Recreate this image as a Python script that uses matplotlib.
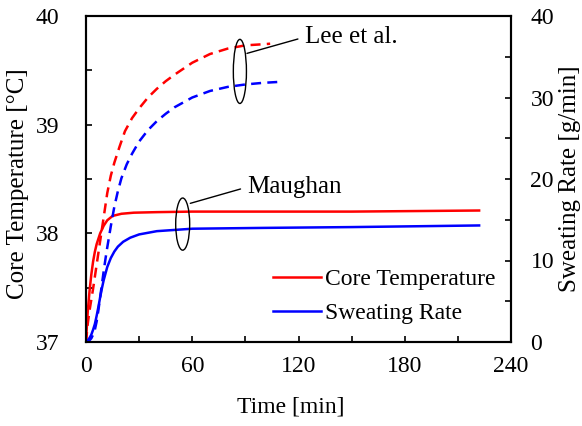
import glob
import numpy as np
import matplotlib
matplotlib.use("Agg")
import matplotlib.pyplot as plt
from matplotlib import font_manager
from matplotlib.patches import Ellipse
from matplotlib.ticker import MultipleLocator

# make sure the Times-like Liberation Serif is registered
for f in glob.glob('/usr/share/fonts/**/LiberationSerif*.ttf', recursive=True):
    font_manager.fontManager.addfont(f)
plt.rcParams['font.family'] = 'serif'
plt.rcParams['font.serif'] = ['Liberation Serif', 'Times New Roman', 'DejaVu Serif']
plt.rcParams['font.size'] = 17

# Maughan model: core temperature [degC] and sweating rate [g/min]
t_maughan_core = [0, 0.5, 1, 2, 3, 4, 5, 6, 8, 10, 12, 15, 20, 27, 40, 60, 100, 150, 222]
core_maughan = [37.0, 37.15, 37.28, 37.47, 37.62, 37.74, 37.83, 37.9, 38.0, 38.07, 38.12,
                38.16, 38.18, 38.19, 38.195, 38.2, 38.2, 38.2, 38.21]

t_maughan_sw = [0, 1, 2, 3, 4, 5, 6, 7, 8, 9, 10, 12, 14, 16, 18, 21, 25, 30, 40, 60, 100, 150, 222]
sweat_maughan = [0, 0.2, 0.5, 0.9, 1.5, 2.2, 3.2, 4.3, 5.5, 6.6, 7.6, 9.2, 10.3, 11.1, 11.7,
                 12.3, 12.8, 13.2, 13.6, 13.9, 14.0, 14.1, 14.3]

# Lee et al. model
t_lee_core = [0, 1, 2, 3, 4, 5, 6, 7, 8, 9, 10, 12, 14, 16, 19, 22, 26, 30, 35, 40, 45, 50,
              60, 70, 80, 90, 100, 104]
core_lee = [37.0, 37.17, 37.29, 37.39, 37.49, 37.6, 37.71, 37.82, 37.93, 38.04, 38.15, 38.37,
            38.53, 38.65, 38.8, 38.94, 39.06, 39.15, 39.25, 39.33, 39.4, 39.46, 39.57, 39.65,
            39.7, 39.73, 39.74, 39.745]

t_lee_sw = [0, 1, 2, 3, 4, 5, 6, 7, 8, 9, 10, 11, 12, 14, 16, 18, 20, 23, 26, 30, 35, 40, 45,
            50, 60, 70, 80, 90, 100, 108]
sweat_lee = [0, 0.05, 0.2, 0.45, 0.9, 1.5, 2.5, 3.9, 5.5, 7.1, 8.7, 10.2, 11.6, 14.2, 16.6,
             18.5, 20.1, 21.8, 23.1, 24.6, 26.0, 27.1, 28.0, 28.8, 30.0, 30.8, 31.3, 31.6,
             31.8, 31.9]

red = '#ff0000'
blue = '#0000ff'

fig = plt.figure(figsize=(5.82, 4.26), dpi=100)
ax = fig.add_axes([86 / 582, 1 - 342 / 426, 425 / 582, 326 / 426])
ax2 = ax.twinx()

ax.plot(t_lee_core, core_lee, color=red, lw=1.8, dashes=(4, 2.5))
ax.plot(t_maughan_core, core_maughan, color=red, lw=1.8, label='Core Temperature')
ax2.plot(t_lee_sw, sweat_lee, color=blue, lw=1.8, dashes=(4, 2.5))
ax2.plot(t_maughan_sw, sweat_maughan, color=blue, lw=1.8, label='Sweating Rate')

ax.set_xlim(0, 240)
ax.set_ylim(37, 40)
ax2.set_ylim(0, 40)

ax.xaxis.set_major_locator(MultipleLocator(60))
ax.xaxis.set_minor_locator(MultipleLocator(30))
ax.yaxis.set_major_locator(MultipleLocator(1))
ax.yaxis.set_minor_locator(MultipleLocator(0.5))
ax2.yaxis.set_major_locator(MultipleLocator(10))
ax2.yaxis.set_minor_locator(MultipleLocator(5))

for a in (ax, ax2):
    for s in a.spines.values():
        s.set_linewidth(1.5)
ax.tick_params(axis='x', which='both', direction='in', length=4, width=1.2, pad=10, top=False)
ax.tick_params(axis='y', which='both', direction='in', length=4, width=1.2, pad=19)
ax2.tick_params(axis='y', which='both', direction='in', length=4, width=1.2, pad=14)

ax.set_xlabel('Time [min]', fontsize=17)
ax.xaxis.set_label_coords(0.482, -0.168)
ax.set_ylabel('Core Temperature [\u00b0C]', fontsize=18)
ax.yaxis.set_label_coords(-0.133, 0.485)
ax2.set_ylabel('Sweating Rate [g/min]', fontsize=18)
ax2.yaxis.set_label_coords(1.113, 0.5)

# annotation ellipses and leader lines
ax2.add_patch(Ellipse((86.9, 39.49), 7.4, 0.59, fill=False, ec='k', lw=1.0,
                      transform=ax.transData, zorder=5))
ax2.add_patch(Ellipse((54.6, 38.085), 7.9, 0.48, fill=False, ec='k', lw=1.0,
                      transform=ax.transData, zorder=5))
ax.annotate('Lee et al.', xy=(90.9, 39.656), xytext=(123.5, 39.806), va='center',
            fontsize=18,
            arrowprops=dict(arrowstyle='-', lw=1.0, color='k', relpos=(0, 0.5),
                            shrinkA=3, shrinkB=0), zorder=6)
ax.annotate('Maughan', xy=(58.9, 38.276), xytext=(91.1, 38.426), va='center',
            fontsize=18,
            arrowprops=dict(arrowstyle='-', lw=1.0, color='k', relpos=(0, 0.5),
                            shrinkA=3, shrinkB=0), zorder=6)

h1, l1 = ax.get_legend_handles_labels()
h2, l2 = ax2.get_legend_handles_labels()
ax2.legend(h1 + h2, l1 + l2, loc='center left', bbox_to_anchor=(0.441, 0.14),
           frameon=False, borderpad=0, borderaxespad=0, handlelength=2.0,
           handletextpad=0.2, labelspacing=0.52)

fig.savefig('out.png', dpi=100)
